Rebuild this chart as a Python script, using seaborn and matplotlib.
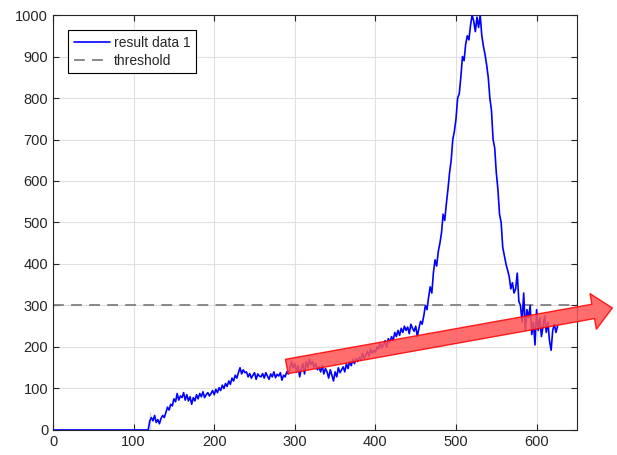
import pandas as pd
import seaborn as sns
import matplotlib.pyplot as plt

# data
x_zero = [0, 118, 120]
y_zero = [0, 0, 0]

x_vals = list(range(120, 628, 2))
y_vals = [
    43, 30, 22, 35, 18, 25, 15, 28, 35, 30,
    42, 55, 48, 62, 58, 75, 68, 88, 72, 82,
    78, 90, 72, 85, 70, 80, 62, 78, 70, 85,
    75, 88, 80, 92, 78, 85, 90, 82, 88, 95,
    85, 98, 90, 102, 95, 108, 100, 112, 105, 118,
    110, 125, 118, 132, 125, 138, 150, 135, 145, 138,
    140, 128, 136, 125, 132, 138, 122, 135, 130, 128,
    136, 125, 138, 130, 122, 135, 128, 140, 126, 134,
    130, 138, 120, 132, 128, 140, 135, 150, 165, 150,
    160, 140, 155, 128, 148, 160, 135, 165, 150, 170,
    158, 165, 150, 160, 145, 152, 140, 155, 135, 148,
    140, 125, 145, 132, 118, 140, 128, 150, 138, 145,
    152, 140, 160, 148, 165, 155, 170, 160, 172, 165,
    175, 168, 185, 172, 180, 190, 178, 195, 185, 192,
    188, 200, 195, 210, 198, 205, 215, 200, 220, 212,
    225, 215, 235, 225, 240, 228, 245, 235, 250, 240,
    248, 232, 255, 245, 238, 250, 225, 245, 262, 255,
    275, 300, 290, 320, 345, 330, 380, 410, 395, 430,
    450, 475, 520, 505, 545, 580, 620, 650, 700, 720,
    750, 800, 810, 850, 900, 890, 930, 950, 940, 975,
    1000, 985, 960, 995, 970, 1000, 950, 925, 905, 880,
    850, 800, 770, 700, 680, 620, 580, 520, 500, 440,
    420, 400, 385, 370, 340, 355, 330, 340, 378, 310,
    300, 260, 330, 240, 290, 270, 300, 230, 260, 205,
    290, 240, 270, 225, 250, 275, 235, 260, 215, 192,
    240, 255, 235, 250,
]

threshold = 300
x_ticks = [0, 100, 200, 300, 400, 500, 600]
y_ticks = [0, 100, 200, 300, 400, 500, 600, 700, 800, 900, 1000]

df = pd.DataFrame({'x': x_zero + x_vals, 'y': y_zero + y_vals})

sns.set_style('ticks')
plt.rcParams['font.family'] = ['Liberation Sans', 'DejaVu Sans']

fig = plt.figure(figsize=(6.17, 4.55), dpi=100)
ax = fig.add_axes([0.086, 0.055, 0.849, 0.912])

sns.lineplot(data=df, x='x', y='y', color='blue', linewidth=1.2,
             label='result data 1', ax=ax, zorder=3)
ax.axhline(threshold, color='#808080', linestyle=(0, (6, 4)), linewidth=1.3,
           label='threshold', zorder=2)

# red arrow drawn over the chart
ax.annotate('', xy=(694, 294), xytext=(290, 153), annotation_clip=False,
            arrowprops=dict(arrowstyle='simple,head_length=1.4,head_width=2.6,tail_width=1.05',
                            fc=(1.0, 0.33, 0.33), ec='red', lw=1.0, alpha=0.85,
                            shrinkA=0, shrinkB=0, mutation_scale=10),
            zorder=5)

ax.set_xlim(0, 650)
ax.set_ylim(0, 1000)
ax.set_xticks(x_ticks)
ax.set_yticks(y_ticks)
ax.set_xlabel('')
ax.set_ylabel('')
ax.grid(True, color='#e0e0e0', linewidth=0.8)
ax.set_axisbelow(True)
ax.tick_params(direction='in', length=4, labelsize=10.5, colors='#262626',
               top=True, right=True, labeltop=False, labelright=False)
for s in ax.spines.values():
    s.set_visible(True)
    s.set_color('#262626')
    s.set_linewidth(0.8)

leg = ax.legend(loc='upper left', bbox_to_anchor=(0.029, 0.964), borderaxespad=0,
                fancybox=False, edgecolor='black', framealpha=1, fontsize=10,
                handlelength=2.6, borderpad=0.4, labelspacing=0.3, handletextpad=0.3)
leg.get_frame().set_linewidth(0.8)

plt.savefig('out.png', dpi=100)
